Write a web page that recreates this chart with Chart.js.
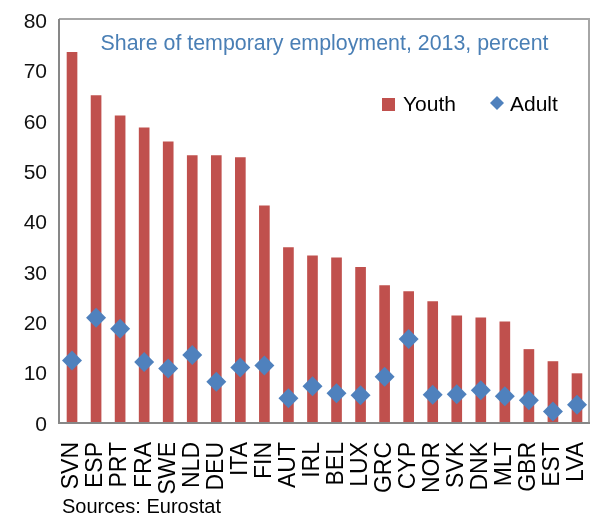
<!DOCTYPE html>
<html lang="en">
<head>
<meta charset="UTF-8">
<title>Share of temporary employment, 2013, percent</title>
<script src="https://cdn.jsdelivr.net/npm/chart.js"></script>
<style>
  body { margin: 0; background: #fff; }
  #grafico { display: block; }
</style>
</head>
<body>
<canvas id="grafico" width="591" height="516"></canvas>
<script>
// temporary employment share by country, 2013 (percent)
const countries = ['SVN', 'ESP', 'PRT', 'FRA', 'SWE', 'NLD', 'DEU', 'ITA', 'FIN', 'AUT', 'IRL',
                   'BEL', 'LUX', 'GRC', 'CYP', 'NOR', 'SVK', 'DNK', 'MLT', 'GBR', 'EST', 'LVA'];
const youth = [73.4, 64.8, 60.8, 58.4, 55.6, 52.9, 52.9, 52.5, 42.9, 34.6, 33.0,
               32.6, 30.7, 27.1, 25.9, 23.9, 21.1, 20.7, 19.9, 14.4, 12.0, 9.6];
const adult = [12.2, 20.7, 18.5, 11.9, 10.6, 13.3, 8.0, 10.8, 11.2, 4.7, 7.1,
               5.7, 5.3, 9.0, 16.5, 5.4, 5.5, 6.3, 5.1, 4.3, 2.1, 3.4];
const yMin = 0;
const yMax = 80;
const yStep = 10;

const titleText = 'Share of temporary employment, 2013, percent';
const sourceText = 'Sources: Eurostat';

const red = '#C0504D';
const blue = '#4F81BD';
const font = '"Liberation Sans", Arial, sans-serif';

// frame, title, legend and source note drawn straight on the canvas
const extras = {
  id: 'extras',
  afterDatasetsDraw(chart) {
    const { ctx, chartArea: a } = chart;
    ctx.save();
    ctx.lineWidth = 2;
    ctx.strokeStyle = '#a6a6a6';
    ctx.beginPath();
    ctx.moveTo(a.left - 1, a.top);
    ctx.lineTo(a.right, a.top);
    ctx.lineTo(a.right, a.bottom);
    ctx.stroke();
    ctx.strokeStyle = '#878787';
    ctx.beginPath();
    ctx.moveTo(a.left - 1, a.top);
    ctx.lineTo(a.left - 1, a.bottom + 1);
    ctx.lineTo(a.right + 1, a.bottom + 1);
    ctx.stroke();
    ctx.restore();
  },
  afterDraw(chart) {
    const { ctx, chartArea: a } = chart;
    const bars = chart.data.datasets[0];
    const dots = chart.data.datasets[1];
    ctx.save();

    ctx.fillStyle = '#4a7fb5';
    ctx.font = '22px ' + font;
    ctx.textAlign = 'center';
    ctx.textBaseline = 'alphabetic';
    ctx.fillText(titleText, (a.left + a.right) / 2, 50, 448);

    // legend
    ctx.font = '21px ' + font;
    ctx.textAlign = 'left';
    ctx.textBaseline = 'middle';
    ctx.fillStyle = bars.backgroundColor;
    ctx.fillRect(382, 98, 13, 13);
    ctx.fillStyle = '#000';
    ctx.fillText(bars.label, 403, 105);

    ctx.fillStyle = dots.backgroundColor;
    ctx.beginPath();
    ctx.moveTo(497, 96);
    ctx.lineTo(504, 103);
    ctx.lineTo(497, 110);
    ctx.lineTo(490, 103);
    ctx.closePath();
    ctx.fill();
    ctx.fillStyle = '#000';
    ctx.fillText(dots.label, 510, 105);

    ctx.font = '20px ' + font;
    ctx.textBaseline = 'alphabetic';
    ctx.fillText(sourceText, 62, 513);
    ctx.restore();
  }
};

const ctx = document.getElementById('grafico').getContext('2d');
new Chart(ctx, {
  type: 'bar',
  data: {
    labels: countries,
    datasets: [
      {
        label: 'Youth',
        data: youth,
        backgroundColor: red,
        barThickness: 10,
        order: 1
      },
      {
        type: 'line',
        label: 'Adult',
        data: adult,
        showLine: false,
        pointStyle: 'rectRot',
        pointRadius: 10,
        pointHoverRadius: 10,
        borderWidth: 0,
        backgroundColor: blue,
        borderColor: blue,
        clip: false,
        order: 0
      }
    ]
  },
  options: {
    responsive: false,
    animation: false,
    layout: {
      autoPadding: false,
      padding: { top: 19, right: 2, left: 0, bottom: 0 }
    },
    plugins: {
      legend: { display: false },
      title: { display: false },
      tooltip: { enabled: false }
    },
    scales: {
      x: {
        grid: { display: false, drawTicks: false },
        border: { display: false },
        ticks: {
          color: '#000',
          font: { family: font, size: 23 },
          minRotation: 90,
          maxRotation: 90,
          autoSkip: false,
          padding: 20
        },
        afterFit(scale) {
          scale.height = 94;
          scale.paddingLeft = 0;
          scale.paddingRight = 0;
        }
      },
      y: {
        min: yMin,
        max: yMax,
        grid: { display: false, drawTicks: false },
        border: { display: false },
        ticks: {
          stepSize: yStep,
          color: '#111',
          font: { family: font, size: 21 },
          padding: 13,
          labelOffset: 3
        },
        afterFit(scale) {
          scale.width = 60;
          scale.paddingTop = 0;
          scale.paddingBottom = 0;
        }
      }
    }
  },
  plugins: [extras]
});
</script>
</body>
</html>
